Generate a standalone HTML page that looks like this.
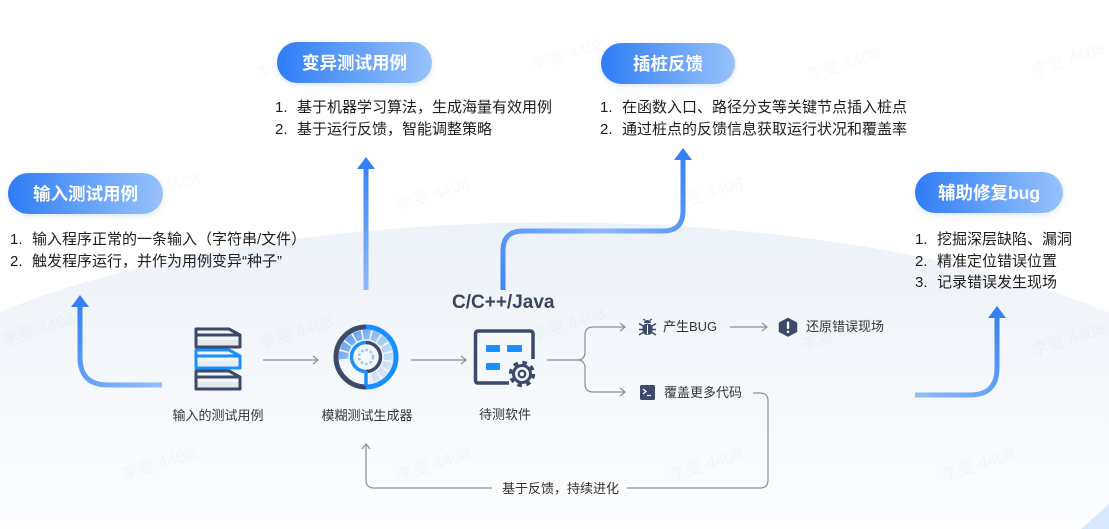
<!DOCTYPE html>
<html><head><meta charset="utf-8">
<style>
*{margin:0;padding:0;box-sizing:border-box}
html,body{width:1109px;height:529px;overflow:hidden;background:#fff;}
body{font-family:"Liberation Sans","Noto Sans CJK SC",sans-serif;}
#wrap{position:relative;width:1109px;height:529px;overflow:hidden;}
svg.bg{position:absolute;left:0;top:0}
.pill{position:absolute;height:41px;border-radius:21px;background:linear-gradient(90deg,#2f7cf6 0%,#5f9df8 45%,#98c2fb 100%);color:#fff;font-weight:700;font-size:17.5px;display:flex;align-items:center;justify-content:center;box-shadow:0 2px 6px rgba(70,130,230,.18);font-family:"Liberation Sans","Noto Sans CJK SC",sans-serif;}
.list{position:absolute;font-size:15px;line-height:21.5px;color:#1e1e1e;white-space:nowrap}
.list span{display:inline-block;width:22px}
.lbl{position:absolute;font-size:13px;color:#333;white-space:nowrap;line-height:16px}
.c{transform:translateX(-50%)}
.wm{position:absolute;font-size:17px;color:rgba(140,150,165,.06);transform:rotate(-18deg);white-space:nowrap;line-height:20px}
</style></head><body><div id="wrap">
<svg class="bg" width="1109" height="529" viewBox="0 0 1109 529" xmlns="http://www.w3.org/2000/svg">
<defs>
<linearGradient id="bgG" gradientUnits="userSpaceOnUse" x1="0" y1="222" x2="0" y2="529">
<stop offset="0" stop-color="#edf2f9"/><stop offset="0.45" stop-color="#f4f7fb"/><stop offset="1" stop-color="#fcfdfe"/>
</linearGradient>
<linearGradient id="gL" gradientUnits="userSpaceOnUse" x1="80" y1="300" x2="162" y2="385">
<stop offset="0" stop-color="#3480f6"/><stop offset="1" stop-color="#93bef9"/>
</linearGradient>
<linearGradient id="gM" gradientUnits="userSpaceOnUse" x1="366" y1="160" x2="366" y2="290">
<stop offset="0" stop-color="#3480f6"/><stop offset="1" stop-color="#8dbbf9"/>
</linearGradient>
<linearGradient id="gRM" gradientUnits="userSpaceOnUse" x1="503" y1="290" x2="683" y2="150">
<stop offset="0" stop-color="#3f87f6"/><stop offset="0.5" stop-color="#8dbaf9"/><stop offset="1" stop-color="#3480f6"/>
</linearGradient>
<linearGradient id="gR" gradientUnits="userSpaceOnUse" x1="997" y1="310" x2="915" y2="395">
<stop offset="0" stop-color="#3480f6"/><stop offset="1" stop-color="#93bef9"/>
</linearGradient>
<linearGradient id="gSeg" gradientUnits="userSpaceOnUse" x1="345" y1="335" x2="390" y2="380">
<stop offset="0" stop-color="#5c9ff1"/><stop offset="0.5" stop-color="#a9cdf6"/><stop offset="1" stop-color="#e6f0fb"/>
</linearGradient>
</defs>
<path d="M0,312 A720,248 0 0 1 1109,312.5 L1109,529 L0,529 Z" fill="url(#bgG)"/>
<polygon points="1109,504 1109,529 1081,529" fill="#d8e7fc"/>

<!-- thick arrows -->
<path d="M162,385 L108,385 Q80,385 80,357 L80,306" fill="none" stroke="url(#gL)" stroke-width="5"/>
<polygon points="80,295 89,307 71,307" fill="#3480f6"/>

<path d="M366,290 L366,168" fill="none" stroke="url(#gM)" stroke-width="5"/>
<polygon points="366,157 375,169 357,169" fill="#3480f6"/>

<path d="M503,290 L503,251 Q503,231 523,231 L663,231 Q683,231 683,211 L683,159" fill="none" stroke="url(#gRM)" stroke-width="5"/>
<polygon points="683,148 692,160 674,160" fill="#3480f6"/>

<path d="M915,395 L970,395 Q997,395 997,368 L997,317" fill="none" stroke="url(#gR)" stroke-width="5"/>
<polygon points="997,306 1006,318 988,318" fill="#3480f6"/>

<!-- thin connectors -->
<g fill="none" stroke="#8c9099" stroke-width="1.2">
<path d="M263,360 L318,360"/><path d="M313,356 L318,360 L313,364"/>
<path d="M411,360 L466,360"/><path d="M461,356 L466,360 L461,364"/>
<path d="M547,360 L577,360 Q585,360 585,352 L585,335 Q585,327 593,327 L625,327"/>
<path d="M577,360 Q585,360 585,368 L585,384 Q585,392 593,392 L625,392"/>
<path d="M620,323 L625,327 L620,331"/><path d="M620,388 L625,392 L620,396"/>
<path d="M730,327 L767,327"/><path d="M762,323 L767,327 L762,331"/>
<path d="M753,393 L760,393 Q768,393 768,401 L768,480 Q768,488 760,488 L627,488"/>
<path d="M492,488 L374,488 Q366,488 366,480 L366,445"/>
<path d="M362,449 L366,444 L370,449"/>
</g>

<!-- stack icon -->
<g stroke-linejoin="round" stroke-width="3">
<path d="M197,340 L239,340 L239,346 L197,346 Z" fill="#e4e7ec" stroke="none"/>
<path d="M196,329 L229,329 L240,335 L240,347 L196,347 Z" fill="none" stroke="#3c4a6a"/>
<path d="M196,335 L240,335" stroke="#3c4a6a"/>
<path d="M197,361 L239,361 L239,367 L197,367 Z" fill="#e6eef8" stroke="none"/>
<path d="M196,350 L229,350 L240,356 L240,368 L196,368 Z" fill="none" stroke="#1890ff"/>
<path d="M196,356 L240,356" stroke="#1890ff"/>
<path d="M197,382 L239,382 L239,388 L197,388 Z" fill="#e4e7ec" stroke="none"/>
<path d="M196,371 L229,371 L240,377 L240,389 L196,389 Z" fill="none" stroke="#3c4a6a"/>
<path d="M196,377 L240,377" stroke="#3c4a6a"/>
</g>

<!-- gauge icon -->
<path d="M343.6,359 A22.5,22.5 0 1 1 369.9,379.2" fill="none" stroke="url(#gSeg)" stroke-width="9.5" stroke-dasharray="7 1.6"/>
<path d="M366,327 A30,30 0 0 0 366,387" fill="none" stroke="#3c4a6a" stroke-width="5"/>
<path d="M366,327 A30,30 0 0 1 366,387" fill="none" stroke="#1890ff" stroke-width="5"/>
<path d="M366,342.5 A14.5,14.5 0 0 0 366,371.5" fill="none" stroke="#1890ff" stroke-width="3.5"/>
<path d="M366,342.5 A14.5,14.5 0 0 1 366,371.5" fill="none" stroke="#3c4a6a" stroke-width="3.5"/>
<path d="M366,371 L366,386" stroke="#1890ff" stroke-width="3.5"/>
<circle cx="366" cy="357" r="7" fill="none" stroke="#9cc6f5" stroke-width="2.5" stroke-dasharray="2.6 2"/>

<!-- software icon -->
<path d="M509,383 L478,383 Q475.5,383 475.5,380 L475.5,334 Q475.5,331 478.5,331 L530,331 Q533,331 533,334 L533,359" fill="none" stroke="#3c4a6a" stroke-width="3.5"/>
<rect x="486" y="345" width="14" height="7" rx="1" fill="#1890ff"/>
<rect x="507" y="345" width="15" height="7" rx="1" fill="#1890ff"/>
<rect x="486" y="363" width="14" height="7" rx="1" fill="#1890ff"/>
<circle cx="522" cy="374" r="8.5" fill="none" stroke="#3c4a6a" stroke-width="3"/>
<circle cx="522" cy="374" r="11.2" fill="none" stroke="#3c4a6a" stroke-width="4" stroke-dasharray="4.4 4.4"/>
<circle cx="522" cy="374" r="3.3" fill="none" stroke="#3c4a6a" stroke-width="2.3"/>

<!-- bug icon -->
<g stroke="#3c4a6a" stroke-width="1.5" fill="none">
<path d="M643,326 L639,323.5"/><path d="M643,329.5 L639,329.5"/><path d="M643,332.5 L639,335"/>
<path d="M652,326 L656,323.5"/><path d="M652,329.5 L656,329.5"/><path d="M652,332.5 L656,335"/>
<path d="M645,320.5 L643.5,319"/><path d="M650,320.5 L651.5,319"/>
</g>
<path d="M644,323 a3.5,3 0 0 1 7,0 Z" fill="#3c4a6a"/>
<rect x="642.5" y="323.8" width="10" height="11" rx="4" fill="#3c4a6a"/>
<path d="M647.5,325 L647.5,334" stroke="#fff" stroke-width="1"/>

<!-- exclamation hexagon -->
<polygon points="788,318.5 796.5,323 796.5,331.5 788,336 779.5,331.5 779.5,323" fill="#3c4a6a" stroke="#3c4a6a" stroke-width="1.5" stroke-linejoin="round"/>
<rect x="786.9" y="321.5" width="2.3" height="7.5" rx="1" fill="#fff"/>
<circle cx="788" cy="331.8" r="1.3" fill="#fff"/>

<!-- terminal icon -->
<rect x="640" y="385" width="15" height="15" rx="1.5" fill="#3d4b6e"/>
<path d="M643,389 L646,391.5 L643,394" fill="none" stroke="#fff" stroke-width="1.2"/>
<path d="M647,395.5 L651,395.5" stroke="#fff" stroke-width="1.2"/>
</svg>

<!-- watermarks -->
<div class="wm" style="left:255px;top:55px">李雯 4408</div>
<div class="wm" style="left:530px;top:45px">李雯 4408</div>
<div class="wm" style="left:805px;top:55px">李雯 4408</div>
<div class="wm" style="left:1030px;top:50px">李雯 4408</div>
<div class="wm" style="left:125px;top:180px">李雯 4408</div>
<div class="wm" style="left:395px;top:185px">李雯 4408</div>
<div class="wm" style="left:668px;top:185px">李雯 4408</div>
<div class="wm" style="left:940px;top:185px">李雯 4408</div>
<div class="wm" style="left:0px;top:320px">李雯 4408</div>
<div class="wm" style="left:258px;top:323px">李雯 4408</div>
<div class="wm" style="left:530px;top:315px">李雯 4408</div>
<div class="wm" style="left:800px;top:325px">李雯 4408</div>
<div class="wm" style="left:1030px;top:330px">李雯 4408</div>
<div class="wm" style="left:120px;top:455px">李雯 4408</div>
<div class="wm" style="left:395px;top:455px">李雯 4408</div>
<div class="wm" style="left:668px;top:455px">李雯 4408</div>
<div class="wm" style="left:940px;top:455px">李雯 4408</div>

<!-- pills -->
<div class="pill" style="left:8px;top:173px;width:155px;">输入测试用例</div>
<div class="pill" style="left:277px;top:42px;width:155px;">变异测试用例</div>
<div class="pill" style="left:601px;top:43px;width:134px;">插桩反馈</div>
<div class="pill" style="left:915px;top:172px;width:148px;">辅助修复bug</div>

<!-- lists -->
<div class="list" style="left:10px;top:229px;"><span>1.</span>输入程序正常的一条输入（字符串/文件）<br><span>2.</span>触发程序运行，并作为用例变异“种子”</div>
<div class="list" style="left:275px;top:97px;"><span>1.</span>基于机器学习算法，生成海量有效用例<br><span>2.</span>基于运行反馈，智能调整策略</div>
<div class="list" style="left:600px;top:97px;"><span>1.</span>在函数入口、路径分支等关键节点插入桩点<br><span>2.</span>通过桩点的反馈信息获取运行状况和覆盖率</div>
<div class="list" style="left:915px;top:229px;"><span>1.</span>挖掘深层缺陷、漏洞<br><span>2.</span>精准定位错误位置<br><span>3.</span>记录错误发生现场</div>

<!-- labels -->
<div class="lbl c" style="left:218px;top:408px;">输入的测试用例</div>
<div class="lbl c" style="left:367px;top:408px;">模糊测试生成器</div>
<div class="lbl c" style="left:505px;top:407px;">待测软件</div>
<div style="position:absolute;left:452px;top:291px;font-size:19px;font-weight:700;color:#3a4560;line-height:24px;white-space:nowrap;">C/C++/Java</div>
<div class="lbl" style="left:663px;top:319px;">产生BUG</div>
<div class="lbl" style="left:806px;top:319px;">还原错误现场</div>
<div class="lbl" style="left:664px;top:385px;">覆盖更多代码</div>
<div class="lbl" style="left:502px;top:481px;">基于反馈，持续进化</div>
</div></body></html>
